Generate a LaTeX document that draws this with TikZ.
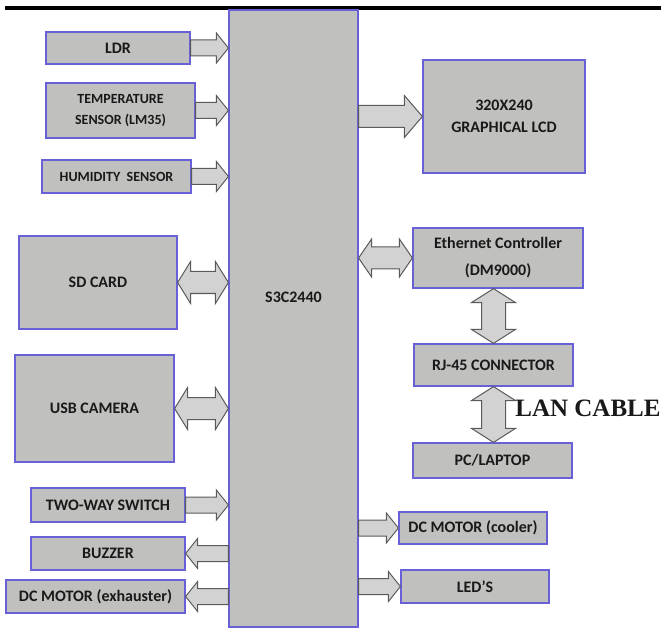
\documentclass[tikz,border=0pt]{standalone}
\usepackage{fontspec}
\setmainfont{Carlito}
\newfontfamily\lanfont{Liberation Serif}
\usetikzlibrary{calc}

\definecolor{boxgray}{RGB}{192,192,190}
\definecolor{boxedge}{RGB}{104,96,214}
\definecolor{busfill}{RGB}{210,210,210}
\definecolor{busedge}{RGB}{90,90,90}

\tikzset{
  block/.style={rectangle, draw=boxedge, fill=boxgray, line width=1.2pt,
    align=center, inner sep=0pt, text=black!90,
    font=\bfseries\fontsize{16}{20}\selectfont},
  sensor/.style={font=\bfseries\fontsize{14}{21}\selectfont},
  bus/.style={draw=busedge, fill=busfill, line width=1pt, line join=miter}
}

% fat arrow: from, to, shaft half width, head half width, head length
\newcommand{\busarrow}[5]{%
  \draw[bus] let \p1=(#1), \p2=(#2),
      \n1={veclen(\x2-\x1,\y2-\y1)}, \n2={atan2(\y2-\y1,\x2-\x1)} in
    [shift={(\p1)}, rotate=\n2]
    (0pt,#3) -- ({\n1-#5},#3) -- ({\n1-#5},#4) -- ({\n1-0pt},0pt)
    -- ({\n1-#5},-#4) -- ({\n1-#5},-#3) -- (0pt,-#3) -- cycle;}
% same, with a head at both ends
\newcommand{\busboth}[5]{%
  \draw[bus] let \p1=(#1), \p2=(#2),
      \n1={veclen(\x2-\x1,\y2-\y1)}, \n2={atan2(\y2-\y1,\x2-\x1)} in
    [shift={(\p1)}, rotate=\n2]
    (0pt,0pt) -- (#5,#4) -- (#5,#3) -- ({\n1-#5},#3) -- ({\n1-#5},#4)
    -- ({\n1-0pt},0pt) -- ({\n1-#5},-#4) -- ({\n1-#5},-#3) -- (#5,-#3)
    -- (#5,-#4) -- cycle;}

\begin{document}
\begin{tikzpicture}[x=1pt, y=-1pt]
  \useasboundingbox (0,0) rectangle (661,628);
  \draw[line width=4pt] (5,8) -- (661,8);

  \node[block, minimum width=129pt, minimum height=617pt] (cpu) at (293.5,318.5) {};
  \node[font=\bfseries\fontsize{16}{20}\selectfont, text=black!90] (cpuname) at (293.5,297) {S3C2440};

  % inputs on the left
  \node[block, minimum width=144pt, minimum height=32pt] (ldr) at (118,48) {LDR};
  \node[block, sensor, minimum width=149pt, minimum height=55pt] (temp) at (120.5,110.5) {TEMPERATURE\\SENSOR (LM35)};
  \node[block, sensor, minimum width=149pt, minimum height=33pt] (hum) at (116.5,176.5) {HUMIDITY\ \ SENSOR};
  \node[block, minimum width=158pt, minimum height=93pt] (sd) at (98,282.5) {SD CARD};
  \node[block, minimum width=159pt, minimum height=107pt] (usb) at (94.5,408.5) {USB CAMERA};
  \node[block, minimum width=154pt, minimum height=34pt] (switch) at (108,505) {TWO-WAY SWITCH};
  \node[block, minimum width=154pt, minimum height=33pt] (buzzer) at (108,553.5) {BUZZER};
  \node[block, minimum width=179pt, minimum height=33pt] (exhaust) at (95.5,596.5) {DC MOTOR (exhauster)};

  % right side
  \node[block, minimum width=162pt, minimum height=113pt, font=\bfseries\fontsize{16}{22}\selectfont] (lcd) at (504,116.5) {320X240\\GRAPHICAL LCD};
  \node[block, minimum width=170pt, minimum height=60pt, font=\bfseries\fontsize{16}{27}\selectfont] (eth) at (498,258) {Ethernet Controller\\(DM9000)};
  \node[block, minimum width=159pt, minimum height=42pt] (rj) at (493.5,365) {RJ-45 CONNECTOR};
  \node[block, minimum width=159pt, minimum height=35pt] (pc) at (492.5,460.5) {PC/LAPTOP};
  \node[block, minimum width=148pt, minimum height=32pt] (cooler) at (473,528) {DC MOTOR (cooler)};
  \node[block, minimum width=148pt, minimum height=33pt] (leds) at (475,586.5) {LED'S};
  \node[font=\lanfont\bfseries\fontsize{25}{28}\selectfont, text=black!90] (lan) at (588,408) {LAN CABLE};

  \busarrow{ldr.east}{cpu.west |- ldr.east}{8pt}{15pt}{12pt}
  \busarrow{temp.east}{cpu.west |- temp.east}{8pt}{15pt}{12pt}
  \busarrow{hum.east}{cpu.west |- hum.east}{8pt}{15pt}{12pt}
  \busboth{sd.east}{cpu.west |- sd.east}{11pt}{21pt}{13pt}
  \busboth{usb.east}{cpu.west |- usb.east}{11pt}{21pt}{13pt}
  \busarrow{switch.east}{cpu.west |- switch.east}{8pt}{15pt}{12pt}
  \busarrow{cpu.west |- buzzer.east}{buzzer.east}{8pt}{15pt}{12pt}
  \busarrow{cpu.west |- exhaust.east}{exhaust.east}{8pt}{15pt}{12pt}

  \busarrow{cpu.east |- lcd.west}{lcd.west}{11pt}{21pt}{18pt}
  \busboth{cpu.east |- eth.west}{eth.west}{11pt}{19pt}{13pt}
  \busboth{rj.north |- eth.south}{rj.north}{12pt}{22pt}{14pt}
  \busboth{rj.south}{pc.north -| rj.south}{12pt}{22pt}{14pt}
  \busarrow{cpu.east |- cooler.west}{cooler.west}{8pt}{15pt}{12pt}
  \busarrow{cpu.east |- leds.west}{leds.west}{8pt}{15pt}{12pt}
\end{tikzpicture}
\end{document}
